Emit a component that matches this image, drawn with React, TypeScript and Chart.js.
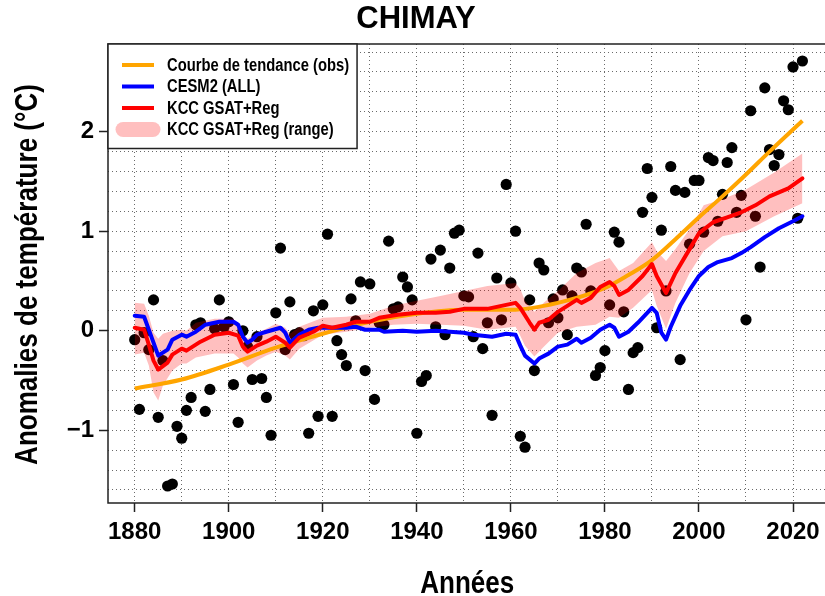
import React, { useEffect, useRef } from 'react';
import { Chart, registerables } from 'chart.js';

Chart.register(...registerables);

// ---------- data ----------
const obsStartYear = 1880;
const obsValues = [
  -0.09, -0.79, -0.02, -0.19, 0.31, -0.87, -0.30, -1.56, -1.54, -0.96, // 1880-1889
  -1.08, -0.80, -0.67, 0.06, 0.08, -0.81, -0.59, 0.02, 0.31, 0.04, // 1890-1899
  0.09, -0.54, -0.92, 0.00, -0.16, -0.49, -0.06, -0.48, -0.67, -1.05, // 1900-1909
  0.18, 0.83, -0.19, 0.29, -0.04, -0.02, -0.05, -1.03, 0.20, -0.86, // 1910-1919
  0.26, 0.97, -0.86, -0.10, -0.24, -0.35, 0.32, 0.10, 0.49, -0.40, // 1920-1929
  0.47, -0.69, 0.08, 0.06, 0.90, 0.22, 0.24, 0.54, 0.44, 0.31, // 1930-1939
  -1.03, -0.51, -0.45, 0.72, 0.04, 0.81, -0.04, 0.63, 0.98, 1.01, // 1940-1949
  0.35, 0.34, -0.06, 0.78, -0.18, 0.08, -0.85, 0.53, 0.11, 1.47, // 1950-1959
  0.48, 1.00, -1.06, -1.17, 0.31, -0.40, 0.68, 0.61, 0.08, 0.32, // 1960-1969
  0.13, 0.41, -0.04, 0.35, 0.63, 0.59, 1.07, 0.40, -0.45, -0.37, // 1970-1979
  -0.20, 0.26, 0.99, 0.89, 0.19, -0.59, -0.22, -0.17, 1.19, 1.63, // 1980-1989
  1.34, 0.03, 1.01, 0.40, 1.65, 1.41, -0.29, 1.39, 0.87, 1.51, // 1990-1999
  1.51, 0.99, 1.74, 1.71, 1.10, 1.37, 1.69, 1.84, 1.19, 1.36, // 2000-2009
  0.11, 2.21, 1.15, 0.64, 2.44, 1.82, 1.66, 1.77, 2.31, 2.22, // 2010-2019
  2.65, 1.13, 2.71, // 2020-2022
];

const trendYears = [1880, 1890, 1900, 1910, 1920, 1930, 1940, 1950, 1960, 1970, 1980, 1985, 1990, 1995, 2000, 2005, 2010, 2015, 2022];
const trendValues = [-0.58, -0.49, -0.34, -0.17, -0.03, 0.09, 0.17, 0.21, 0.21, 0.28, 0.43, 0.56, 0.71, 0.92, 1.14, 1.35, 1.57, 1.80, 2.11];

const cesmYears = [1880, 1882, 1884, 1885, 1887, 1888, 1890, 1891, 1893, 1895, 1898, 1901, 1902, 1903, 1904, 1905, 1906, 1908, 1911, 1912, 1913, 1915, 1917, 1919, 1922, 1925, 1927, 1929, 1932, 1933, 1937, 1940, 1944, 1947, 1950, 1952, 1956, 1959, 1961, 1962, 1963, 1965, 1966, 1968, 1970, 1972, 1974, 1975, 1977, 1979, 1981, 1982, 1983, 1985, 1987, 1989, 1990, 1991, 1992, 1993, 1994, 1996, 1998, 2000, 2002, 2004, 2007, 2009, 2011, 2014, 2017, 2020, 2022];
const cesmValues = [0.15, 0.14, -0.12, -0.25, -0.19, -0.09, -0.04, -0.06, -0.01, 0.06, 0.09, 0.09, 0.06, -0.06, -0.12, -0.09, -0.04, -0.01, 0.03, -0.02, -0.12, -0.04, 0.01, 0.03, 0.03, 0.03, 0.04, 0.01, 0.01, -0.01, 0.00, -0.01, 0.00, -0.01, -0.02, -0.04, -0.06, -0.03, -0.04, -0.15, -0.25, -0.33, -0.28, -0.23, -0.16, -0.14, -0.08, -0.12, -0.07, 0.01, 0.06, 0.03, -0.06, -0.01, 0.08, 0.18, 0.23, 0.18, -0.02, -0.09, 0.04, 0.25, 0.41, 0.55, 0.64, 0.69, 0.73, 0.78, 0.84, 0.94, 1.03, 1.10, 1.15];

const kccYears = [1880, 1882, 1883, 1884, 1885, 1887, 1888, 1890, 1891, 1894, 1897, 1900, 1902, 1903, 1904, 1906, 1908, 1910, 1912, 1913, 1915, 1918, 1920, 1922, 1925, 1927, 1930, 1932, 1936, 1940, 1944, 1947, 1950, 1955, 1958, 1961, 1962, 1964, 1965, 1966, 1968, 1970, 1972, 1974, 1975, 1977, 1979, 1981, 1982, 1983, 1985, 1988, 1990, 1991, 1993, 1995, 1998, 2000, 2003, 2006, 2009, 2012, 2015, 2019, 2022];
const kccValues = [0.03, 0.01, -0.14, -0.30, -0.39, -0.32, -0.24, -0.18, -0.20, -0.11, -0.04, -0.02, -0.05, -0.16, -0.21, -0.15, -0.11, -0.06, -0.12, -0.17, -0.07, -0.01, 0.05, 0.03, 0.06, 0.09, 0.09, 0.13, 0.16, 0.18, 0.18, 0.19, 0.22, 0.22, 0.25, 0.28, 0.23, 0.08, 0.01, 0.08, 0.11, 0.19, 0.25, 0.31, 0.28, 0.33, 0.44, 0.49, 0.45, 0.36, 0.41, 0.55, 0.67, 0.55, 0.38, 0.58, 0.82, 0.98, 1.09, 1.14, 1.19, 1.26, 1.35, 1.43, 1.53];

const rangeYears = [1880, 1882, 1883, 1884, 1885, 1886, 1888, 1890, 1891, 1893, 1897, 1901, 1902, 1903, 1904, 1906, 1908, 1910, 1912, 1913, 1915, 1920, 1925, 1930, 1935, 1940, 1945, 1950, 1955, 1961, 1962, 1963, 1965, 1967, 1970, 1974, 1978, 1981, 1983, 1986, 1990, 1991, 1993, 1995, 1998, 2001, 2005, 2010, 2016, 2022];
const rangeLow = [-0.24, -0.22, -0.35, -0.62, -0.70, -0.55, -0.40, -0.33, -0.33, -0.27, -0.23, -0.23, -0.27, -0.33, -0.37, -0.30, -0.25, -0.21, -0.25, -0.29, -0.18, -0.04, -0.01, 0.03, 0.06, 0.07, 0.06, 0.05, 0.01, 0.04, -0.05, -0.15, -0.26, -0.16, -0.02, 0.04, 0.06, 0.14, 0.13, 0.23, 0.41, 0.25, 0.02, 0.28, 0.58, 0.80, 0.95, 1.00, 1.15, 1.28];
const rangeHigh = [0.28, 0.27, 0.15, -0.02, -0.08, -0.03, 0.00, 0.01, 0.00, 0.08, 0.12, 0.12, 0.06, -0.03, -0.08, -0.02, 0.02, 0.07, 0.03, -0.03, 0.04, 0.13, 0.14, 0.17, 0.25, 0.30, 0.35, 0.40, 0.45, 0.48, 0.42, 0.30, 0.19, 0.28, 0.40, 0.58, 0.68, 0.73, 0.60, 0.68, 0.89, 0.80, 0.70, 0.82, 1.02, 1.26, 1.32, 1.42, 1.59, 1.78];

const xGridYears = [1880, 1890, 1900, 1910, 1920, 1930, 1940, 1950, 1960, 1970, 1980, 1990, 2000, 2010, 2020];
const xLabelYears = [1880, 1900, 1920, 1940, 1960, 1980, 2000, 2020];
const yGridValues = [-1.6, -1.4, -1.2, -1.0, -0.8, -0.6, -0.4, -0.2, 0, 0.2, 0.4, 0.6, 0.8, 1.0, 1.2, 1.4, 1.6, 1.8, 2.0, 2.2, 2.4, 2.6, 2.8];
const yLabelValues = [-1, 0, 1, 2];

const titleText = 'CHIMAY';
const xTitle = 'Années';
const yTitle = 'Anomalies de température (°C)';
const labelTrend = 'Courbe de tendance (obs)';
const labelCesm = 'CESM2 (ALL)';
const labelKcc = 'KCC GSAT+Reg';
const labelRange = 'KCC GSAT+Reg (range)';

// ---------- styling ----------
const FONT = '"Liberation Sans", Arial, sans-serif';
const ORANGE = '#FFA500';
const BLUE = '#0000FF';
const RED = '#FF0000';
const PINK = 'rgba(255,0,0,0.25)';
const GRID = '#6a6a6a';
const NARROW = 0.84; // horizontal squeeze to mimic a narrow bold face

const toXY = (xs: number[], ys: number[]) => xs.map((x, i) => ({ x, y: ys[i] }));

const framePlugin = {
  id: 'rFrame',
  afterDatasetsDraw(chart: any) {
    const { ctx, chartArea: a } = chart;
    ctx.save();
    ctx.strokeStyle = '#222';
    ctx.lineWidth = 1.5;
    ctx.beginPath();
    ctx.moveTo(a.right + 2, a.top);
    ctx.lineTo(a.left, a.top);
    ctx.lineTo(a.left, a.bottom);
    ctx.lineTo(a.right + 2, a.bottom);
    ctx.stroke();
    ctx.restore();
  },
};

// axis titles drawn with a narrow (condensed) look, text taken from the scale options
const axisTitlePlugin = {
  id: 'rAxisTitles',
  afterDraw(chart: any) {
    const { ctx, chartArea: a } = chart;
    const xs = chart.options.scales.x.title.text;
    const ys = chart.options.scales.y.title.text;
    ctx.save();
    ctx.fillStyle = '#000';
    ctx.font = `bold 31px ${FONT}`;
    ctx.textAlign = 'center';
    ctx.textBaseline = 'middle';
    // x title
    ctx.save();
    ctx.translate((a.left + a.right) / 2, 584);
    ctx.scale(NARROW, 1);
    ctx.fillText(xs, 0, 0);
    ctx.restore();
    // y title
    ctx.save();
    ctx.translate(28, (a.top + a.bottom) / 2 + 1);
    ctx.rotate(-Math.PI / 2);
    ctx.scale(NARROW, 1);
    ctx.fillText(ys, 0, 0);
    ctx.restore();
    ctx.restore();
  },
};

const legendPlugin = {
  id: 'rLegend',
  afterDatasetsDraw(chart: any) {
    const { ctx, chartArea: a } = chart;
    const items = chart.data.datasets.filter((d: any) => d.legendKind);
    items.sort((p: any, q: any) => p.legendRank - q.legendRank);
    ctx.save();
    ctx.font = `bold 18px ${FONT}`;
    const sq = 0.82;
    const maxW = Math.max(...items.map((d: any) => ctx.measureText(d.label).width)) * sq;
    const x0 = a.left;
    const y0 = a.top;
    const textX = x0 + 59;
    const w = textX - x0 + maxW + 8;
    const rowH = 21.5;
    const h = 21 + rowH * (items.length - 1) + 19;
    ctx.fillStyle = '#fff';
    ctx.fillRect(x0, y0, w, h);
    ctx.strokeStyle = '#222';
    ctx.lineWidth = 1.5;
    ctx.strokeRect(x0, y0, w, h);
    items.forEach((d: any, i: number) => {
      const cy = y0 + 21 + i * rowH;
      ctx.beginPath();
      if (d.legendKind === 'band') {
        ctx.strokeStyle = d.backgroundColor;
        ctx.lineWidth = 15;
        ctx.lineCap = 'round';
        ctx.moveTo(x0 + 15, cy);
        ctx.lineTo(x0 + 45, cy);
      } else {
        ctx.strokeStyle = d.borderColor;
        ctx.lineWidth = 4;
        ctx.lineCap = 'butt';
        ctx.moveTo(x0 + 14, cy);
        ctx.lineTo(x0 + 46, cy);
      }
      ctx.stroke();
      ctx.save();
      ctx.fillStyle = '#000';
      ctx.textAlign = 'left';
      ctx.textBaseline = 'middle';
      ctx.translate(textX, cy + 1);
      ctx.scale(sq, 1);
      ctx.fillText(d.label, 0, 0);
      ctx.restore();
    });
    ctx.restore();
  },
};

const isIn = (arr: number[], v: number) => arr.some((a) => Math.abs(a - v) < 1e-6);

export default function App() {
  const ref = useRef<HTMLCanvasElement | null>(null);

  useEffect(() => {
    document.body.style.margin = '0';
    const canvas = ref.current;
    if (!canvas) return;
    const tickFont = { family: FONT, size: 24, weight: 'bold' as const, lineHeight: 1 };
    const titleFont = { family: FONT, size: 31, weight: 'bold' as const, lineHeight: 1 };

    const chart = new Chart(canvas, {
      type: 'line',
      data: {
        datasets: [
          {
            label: 'obs',
            data: obsValues.map((v, i) => ({ x: obsStartYear + i, y: v })),
            showLine: false,
            pointRadius: 5.6,
            pointBackgroundColor: '#000',
            pointBorderWidth: 0,
            order: 5,
          } as any,
          {
            label: labelRange,
            legendKind: 'band',
            legendRank: 4,
            data: toXY(rangeYears, rangeHigh),
            borderWidth: 0,
            pointRadius: 0,
            backgroundColor: PINK,
            borderColor: 'transparent',
            fill: '+1',
            order: 4,
          } as any,
          {
            label: 'range-low',
            data: toXY(rangeYears, rangeLow),
            borderWidth: 0,
            pointRadius: 0,
            borderColor: 'transparent',
            fill: false,
            order: 4,
          } as any,
          {
            label: labelTrend,
            legendKind: 'line',
            legendRank: 1,
            data: toXY(trendYears, trendValues),
            borderColor: ORANGE,
            borderWidth: 4,
            pointRadius: 0,
            cubicInterpolationMode: 'monotone',
            fill: false,
            order: 3,
          } as any,
          {
            label: labelCesm,
            legendKind: 'line',
            legendRank: 2,
            data: toXY(cesmYears, cesmValues),
            borderColor: BLUE,
            borderWidth: 4,
            pointRadius: 0,
            borderJoinStyle: 'round',
            borderCapStyle: 'round',
            fill: false,
            order: 2,
          } as any,
          {
            label: labelKcc,
            legendKind: 'line',
            legendRank: 3,
            data: toXY(kccYears, kccValues),
            borderColor: RED,
            borderWidth: 4,
            pointRadius: 0,
            borderJoinStyle: 'round',
            borderCapStyle: 'round',
            fill: false,
            order: 1,
          } as any,
        ],
      },
      options: {
        animation: false,
        responsive: false,
        devicePixelRatio: 1,
        layout: { padding: 0 },
        plugins: {
          legend: { display: false },
          tooltip: { enabled: false },
          title: {
            display: true,
            text: titleText,
            color: '#000',
            font: titleFont,
            padding: { top: 4, bottom: 9 },
          },
        },
        scales: {
          x: {
            type: 'linear',
            min: 1874.32,
            max: 2027.1,
            afterBuildTicks: (s: any) => {
              s.ticks = xGridYears.map((v) => ({ value: v }));
            },
            afterFit: (s: any) => {
              s.height = 93;
            },
            ticks: {
              autoSkip: false,
              maxRotation: 0,
              minRotation: 0,
              color: '#000',
              font: tickFont,
              padding: 8,
              callback: (v: any) => (isIn(xLabelYears, v) ? String(v) : ''),
            },
            grid: {
              color: GRID,
              lineWidth: 1,
              tickLength: 9,
              tickColor: (c: any) => (c.tick && isIn(xLabelYears, c.tick.value) ? '#222' : 'rgba(0,0,0,0)'),
              tickWidth: 1.5,
            },
            border: { display: false, dash: [1, 3] },
            title: { display: false, text: xTitle },
          },
          y: {
            type: 'linear',
            min: -1.7308,
            max: 2.8808,
            afterBuildTicks: (s: any) => {
              s.ticks = yGridValues.map((v) => ({ value: v }));
            },
            afterFit: (s: any) => {
              s.width = 108;
            },
            ticks: {
              autoSkip: false,
              color: '#000',
              font: tickFont,
              padding: 5,
              callback: (v: any) => {
                if (!isIn(yLabelValues, v)) return '';
                const r = Math.round(v);
                return r < 0 ? '\u2212' + Math.abs(r) : String(r);
              },
            },
            grid: {
              color: GRID,
              lineWidth: 1,
              tickLength: 9,
              tickColor: (c: any) => (c.tick && isIn(yLabelValues, c.tick.value) ? '#222' : 'rgba(0,0,0,0)'),
              tickWidth: 1.5,
            },
            border: { display: false, dash: [1, 3] },
            title: { display: false, text: yTitle },
          },
        },
      },
      plugins: [framePlugin, legendPlugin, axisTitlePlugin],
    } as any);

    return () => chart.destroy();
  }, []);

  return (
    <div
      style={{
        position: 'fixed',
        left: 0,
        top: 0,
        width: 825,
        height: 596,
        overflow: 'hidden',
        background: '#fff',
      }}
    >
      <canvas ref={ref} width={832} height={596} style={{ display: 'block', width: 832, height: 596 }} />
    </div>
  );
}
